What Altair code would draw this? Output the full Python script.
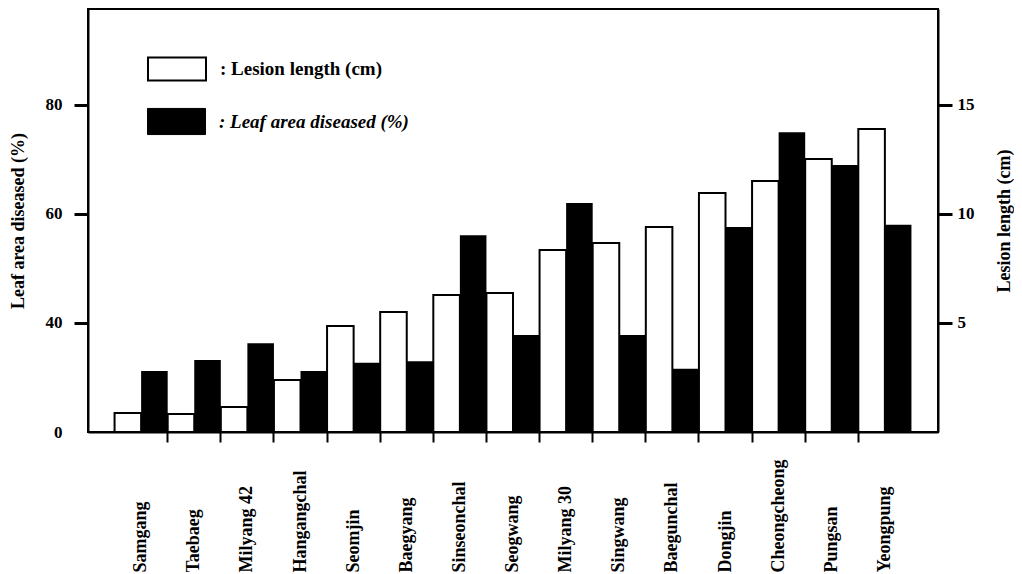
import altair as alt
import pandas as pd

# ---- data ----
varieties = ["Samgang", "Taebaeg", "Milyang 42", "Hangangchal", "Seomjin",
             "Baegyang", "Sinseonchal", "Seogwang", "Milyang 30", "Singwang",
             "Baegunchal", "Dongjin", "Cheongcheong", "Pungsan", "Yeongpung"]
lesion_cm = [0.87, 0.83, 1.15, 2.39, 4.86, 5.50, 6.28, 6.38, 8.35, 8.67,
             9.40, 10.96, 11.51, 12.52, 13.90]
leaf_pct = [31.2, 33.2, 36.3, 31.2, 32.7, 33.0, 56.1, 37.8, 62.0, 37.8,
            31.6, 57.6, 75.0, 69.0, 58.0]

left_ticks = [20, 40, 60, 80]
left_tick_labels = ["0", "40", "60", "80"]
left_base = 20
right_ticks = [5, 10, 15]

LES = ": Lesion length (cm)"
LEAF = ": Leaf area diseased (%)"

df = pd.DataFrame({"variety": varieties, "lesion": lesion_cm, "leaf": leaf_pct})
df["s_les"] = LES
df["s_leaf"] = LEAF

FONT = "Liberation Serif"
W, H = 850, 423

label_expr = " : ".join(
    [f"datum.value == {v} ? '{t}'" for v, t in zip(left_ticks, left_tick_labels)]
) + " : datum.label"

x_axis = alt.Axis(
    title=None, labelAngle=-90, labelAlign="left", labelBaseline="middle",
    bandPosition=0, tickSize=10, tickWidth=2,
    tickColor="black", domainColor="black", domainWidth=2,
    tickOpacity=alt.condition(f"datum.value == '{varieties[0]}'", alt.value(0), alt.value(1)),
    labelPadding=130, labelFont=FONT, labelFontSize=18, labelFontWeight="bold",
    labelColor="black",
)

x_enc = alt.X("variety:N", sort=varieties,
              scale=alt.Scale(paddingInner=0, paddingOuter=0.5), axis=x_axis)
xoff_scale = alt.Scale(domain=[LES, LEAF], paddingInner=0, paddingOuter=0)

white = alt.Chart(df).mark_bar(stroke="black", strokeWidth=2).encode(
    x=x_enc,
    xOffset=alt.XOffset("s_les:N", scale=xoff_scale),
    y=alt.Y("lesion:Q",
            scale=alt.Scale(domain=[0, 19.4], nice=False, zero=False),
            axis=alt.Axis(orient="right", values=right_ticks, title="Lesion length (cm)",
                          tickSize=14, tickWidth=3, tickColor="black",
                          domainColor="black", domainWidth=2,
                          labelPadding=5, labelFont=FONT, labelFontSize=17,
                          labelFontWeight="bold", labelColor="black",
                          titleFont=FONT, titleFontSize=18, titleFontWeight="bold",
                          titleColor="black", titleAngle=-90, titleBaseline="middle",
                          titleAlign="center", titleX=66, titleY=H / 2)),
    color=alt.Color("s_les:N", scale=alt.Scale(domain=[LES], range=["white"]),
                    legend=alt.Legend(title=None, orient="none", legendX=59, legendY=30,
                                      symbolType="M-1,-0.4H1V0.4H-1Z", symbolSize=3364,
                                      symbolStrokeColor="black", symbolStrokeWidth=2,
                                      labelOffset=13, labelFont=FONT, labelFontSize=19,
                                      labelFontWeight="bold", labelColor="black",
                                      labelLimit=0, padding=0)),
)

black = alt.Chart(df).mark_bar().encode(
    x=x_enc,
    xOffset=alt.XOffset("s_leaf:N", scale=xoff_scale),
    y=alt.Y("leaf:Q",
            scale=alt.Scale(domain=[left_base, 97.6], nice=False, zero=False),
            axis=alt.Axis(orient="left", values=left_ticks, labelExpr=label_expr,
                          title="Leaf area diseased (%)",
                          tickSize=14, tickWidth=3, tickColor="black",
                          tickOpacity=alt.condition(f"datum.value == {left_base}", alt.value(0), alt.value(1)),
                          domainColor="black", domainWidth=2,
                          labelPadding=12, labelFont=FONT, labelFontSize=17,
                          labelFontWeight="bold", labelColor="black",
                          titleFont=FONT, titleFontSize=18, titleFontWeight="bold",
                          titleColor="black", titleAngle=-90, titleBaseline="middle",
                          titleAlign="center", titleX=-70, titleY=H / 2)),
    y2=alt.Y2Datum(left_base),
    color=alt.Color("s_leaf:N", scale=alt.Scale(domain=[LEAF], range=["black"]),
                    legend=alt.Legend(title=None, orient="none", legendX=59, legendY=83,
                                      symbolType="M-1,-0.45H1V0.45H-1Z", symbolSize=3364,
                                      symbolStrokeColor="black", symbolStrokeWidth=1,
                                      labelOffset=13, labelFont=FONT, labelFontSize=19,
                                      labelFontWeight="bold", labelFontStyle="italic",
                                      labelColor="black", labelLimit=0, padding=0)),
)

chart = alt.layer(white, black).resolve_scale(
    y="independent", color="independent"
).properties(
    width=W, height=H,
    autosize=alt.AutoSizeParams(type="none"),
    padding={"left": 80, "top": 1, "right": 76, "bottom": 140},
).configure_view(
    stroke="black", strokeWidth=2
).configure_axis(grid=False)

chart.save("out.html", embed_options={"renderer": "svg", "actions": False})
